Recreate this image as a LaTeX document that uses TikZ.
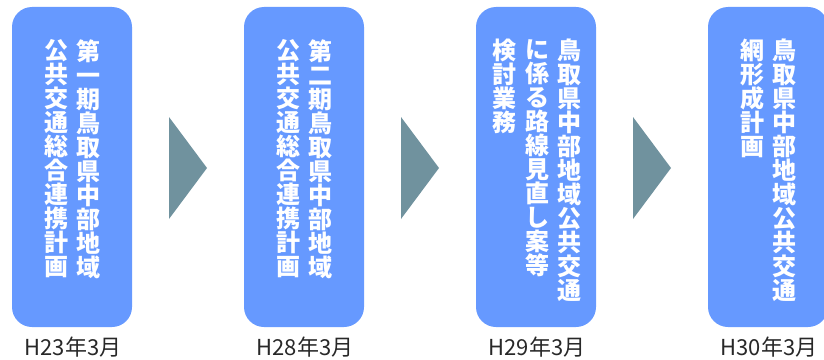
\documentclass[tikz,border=0pt]{standalone}
\usepackage{fontspec}
\newfontfamily\cjk{Noto Sans CJK JP}
\definecolor{planblue}{RGB}{102,153,255}
\definecolor{nextgray}{RGB}{112,146,158}
\definecolor{dategray}{RGB}{40,40,40}
\tikzset{
  planbox/.style={fill=planblue, rounded corners=15pt, minimum width=90pt, minimum height=240pt, inner sep=0pt},
  coltext/.style={anchor=north, inner sep=0pt, align=center, text=white, font=\cjk\bfseries\fontsize{18}{18}\selectfont},
  datetext/.style={inner sep=0pt, text=dategray, font=\cjk\fontsize{16.5}{18}\selectfont},
  nextarrow/.style={fill=nextgray, draw=none}
}
\begin{document}
\begin{tikzpicture}[x=0.75pt,y=0.75pt,yscale=-1,xscale=1]
    \clip (0,0) rectangle (824,360);
    \useasboundingbox (0,0) rectangle (824,360);

    %Shape: Rounded Rect [H23]
    \node [planbox] (plan1) at (72,167) {};
    %Shape: Rounded Rect [H28]
    \node [planbox] (plan2) at (304,167) {};
    %Shape: Rounded Rect [H29]
    \node [planbox] (plan3) at (536,167) {};
    %Shape: Rounded Rect [H30]
    \node [planbox] (plan4) at (768,167) {};

    %Shape: Triangle
    \draw [nextarrow] (169,117) -- (207,168) -- (169,219) -- cycle ;
    %Shape: Triangle
    \draw [nextarrow] (401,117) -- (439,168) -- (401,219) -- cycle ;
    %Shape: Triangle
    \draw [nextarrow] (633,117) -- (671,168) -- (633,219) -- cycle ;

    % Text Node
    \node [coltext] (plan1a) at (88,39) {第\\一\\期\\鳥\\取\\県\\中\\部\\地\\域};
    \node [coltext] (plan1b) at (56,39) {公\\共\\交\\通\\総\\合\\連\\携\\計\\画};
    % Text Node
    \node [coltext] (plan2a) at (320,39) {第\\二\\期\\鳥\\取\\県\\中\\部\\地\\域};
    \node [coltext] (plan2b) at (288,39) {公\\共\\交\\通\\総\\合\\連\\携\\計\\画};
    % Text Node
    \node [coltext] (plan3a) at (569,39) {鳥\\取\\県\\中\\部\\地\\域\\公\\共\\交\\通};
    \node [coltext] (plan3b) at (537,39) {に\\係\\る\\路\\線\\見\\直\\し\\案\\等};
    \node [coltext] (plan3c) at (504,39) {検\\討\\業\\務};
    % Text Node
    \node [coltext] (plan4a) at (784,39) {鳥\\取\\県\\中\\部\\地\\域\\公\\共\\交\\通};
    \node [coltext] (plan4b) at (752,39) {網\\形\\成\\計\\画};

    % Text Node
    \node [datetext] (date1) at (73,347) {H23年3月};
    \node [datetext] (date2) at (305,347) {H28年3月};
    \node [datetext] (date3) at (537,347) {H29年3月};
    \node [datetext] (date4) at (769,347) {H30年3月};
\end{tikzpicture}
\end{document}
